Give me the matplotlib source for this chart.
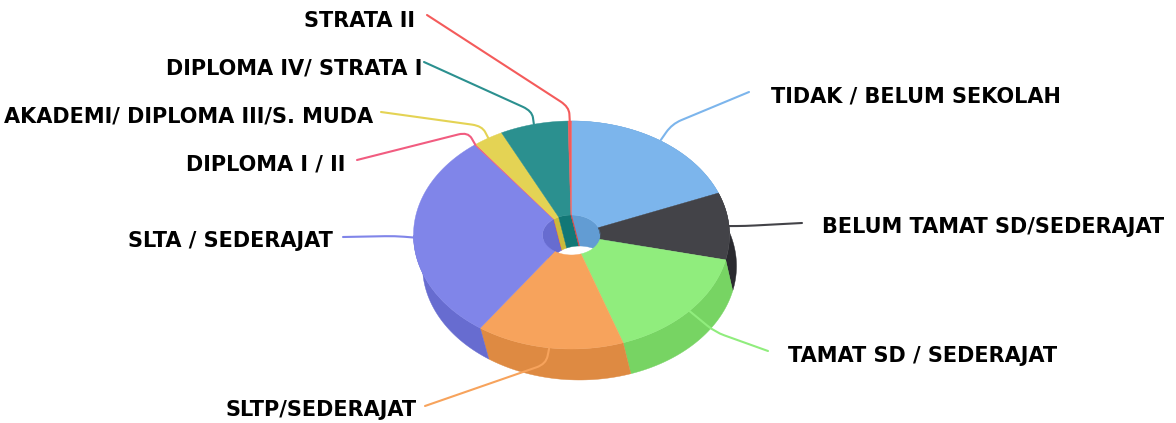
import numpy as np
import matplotlib
matplotlib.use('Agg')
import matplotlib.pyplot as plt
from matplotlib.patches import Polygon, PathPatch
from matplotlib.path import Path
from matplotlib.colors import to_rgb

labels = ['TIDAK / BELUM SEKOLAH', 'BELUM TAMAT SD/SEDERAJAT', 'TAMAT SD / SEDERAJAT',
          'SLTP/SEDERAJAT', 'SLTA / SEDERAJAT', 'DIPLOMA I / II',
          'AKADEMI/ DIPLOMA III/S. MUDA', 'DIPLOMA IV/ STRATA I', 'STRATA II']
values = [19.0, 9.5, 16.2, 15.1, 29.7, 0.15, 3.05, 6.95, 0.35]
colors = ['#7cb5ec', '#434348', '#90ed7d', '#f7a35c', '#8085e9',
          '#f15c80', '#e4d354', '#2b908f', '#f45b5b']

cx, cy = 571.5, 235
rx, ry = 158, 114
hx, hy = 29, 20
dx, dy = 8, 31
low_rx = 157
# silhouette angle of the extrusion
sil = np.degrees(np.arctan2(rx * dy, ry * dx))

# label text anchor and connector: text x, text y, ha, line start, corner
label_pos = [
    (771, 102, 'left', (749, 92), (672, 124)),
    (822, 233, 'left', (802, 223), (745, 226)),
    (788, 362, 'left', (768, 351), (715, 332)),
    (417, 416, 'right', (425, 406), (546, 364)),
    (333, 247, 'right', (343, 237), (395, 236)),
    (345, 171, 'right', (357, 160), (468, 132)),
    (373, 123, 'right', (381, 112), (482, 126)),
    (422, 74, 'right', (424, 62), (532, 111)),
    (415, 27, 'right', (427, 15), (569, 107)),
]


def dark(c):
    return tuple(max(0, v - 0.1) for v in to_rgb(c))


def pt(a, x_r, y_r, ox=0, oy=0):
    a = np.radians(a)
    return np.column_stack([cx + ox + x_r * np.sin(a), cy + oy - y_r * np.cos(a)])


def band(a0, a1, x_r, y_r, x_low):
    t = np.linspace(a0, a1, 40)
    return np.vstack([pt(t, x_r, y_r), pt(t[::-1], x_low, y_r, dx, dy)])


fig = plt.figure(figsize=(11.76, 4.23), dpi=100)
ax = fig.add_axes([0, 0, 1, 1])
ax.set_xlim(0, 1176)
ax.set_ylim(423, 0)
ax.axis('off')

edges = np.concatenate([[0], np.cumsum(values)]) / np.sum(values) * 360
starts, ends = edges[:-1], edges[1:]

# inner walls, far side of the hole only
for a0, a1, c in zip(starts, ends, colors):
    for lo, hi in [(a0, min(a1, sil)), (max(a0, 180 + sil), a1)]:
        if hi > lo:
            ax.add_patch(Polygon(band(lo, hi, hx, hy, hx), fc=dark(c), ec=dark(c), lw=0.3, zorder=1))

# end face of the first slice shows through the hole
q = np.vstack([pt(ends[:1], hx, hy), pt(ends[:1], rx, ry), pt(ends[:1], low_rx, ry, dx, dy), pt(ends[:1], hx, hy, dx, dy)])
ax.add_patch(Polygon(q, fc=dark(colors[0]), ec='none', zorder=2))

# outer walls, the top faces hide what is behind them
for a0, a1, c in zip(starts, ends, colors):
    hi = min(a1, 270)
    if hi > a0:
        ax.add_patch(Polygon(band(a0, hi, rx, ry, low_rx), fc=dark(c), ec=dark(c), lw=0.3, zorder=3))

# top faces
for a0, a1, c in zip(starts, ends, colors):
    t = np.linspace(a0, a1, 80)
    top = np.vstack([pt(t, rx, ry), pt(t[::-1], hx, hy)])
    ax.add_patch(Polygon(top, fc=c, ec=c, lw=0.3, zorder=4))

# connectors and labels
for name, c, a0, a1, (tx, ty, ha, p0, p1) in zip(labels, colors, starts, ends, label_pos):
    end = pt(np.array([(a0 + a1) / 2]), rx, ry)[0]
    p0, p1 = np.array(p0, float), np.array(p1, float)
    before = p1 + (p0 - p1) * min(1, 10 / np.hypot(*(p0 - p1)))
    after = p1 + (end - p1) * min(0.5, 10 / max(np.hypot(*(end - p1)), 1))
    verts = [p0, before, p1, after, end]
    codes = [Path.MOVETO, Path.LINETO, Path.CURVE3, Path.CURVE3, Path.LINETO]
    ax.add_patch(PathPatch(Path(verts, codes), fc='none', ec=c, lw=1.5, zorder=5, capstyle='round'))
    ax.text(tx, ty, name, ha=ha, va='baseline', fontsize=15, fontweight='bold',
            family='DejaVu Sans', color='black', zorder=6)

fig.savefig('out.png', dpi=100)
